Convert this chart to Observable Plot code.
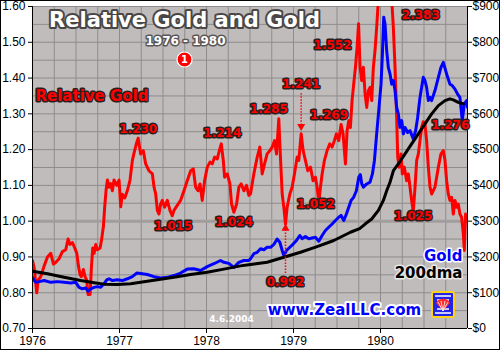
<!DOCTYPE html>
<html>
<head>
<meta charset="utf-8">
<script src="https://cdn.jsdelivr.net/npm/d3@7"></script>
<script src="https://cdn.jsdelivr.net/npm/@observablehq/plot@0.6"></script>
<style>
  html, body { margin: 0; padding: 0; background: #fff; }
  #wrap { position: relative; width: 500px; height: 350px; overflow: hidden; }
  #border { position: absolute; left: 0; top: 0; width: 500px; height: 350px; box-sizing: border-box; border: 1px solid #000; pointer-events: none; }
  #logo { position: absolute; left: 431px; top: 291px; width: 24px; height: 27px; }
</style>
</head>
<body>
<div id="wrap">
  <div id="chart"></div>
  <svg id="logo" viewBox="0 0 24 27">
    <rect x="1" y="1" width="22" height="25" rx="2" fill="#2424e8" stroke="#ffd21a" stroke-width="2"/>
    <path d="M4 5 L20 5 M4 22 L20 22 M6 9 L18 9 M6 18 L18 18" stroke="#fff" stroke-width="1.3"/>
    <path d="M12 20 L5 12 A8 8 0 0 1 19 12 Z" fill="#ff2a2a"/>
    <path d="M12 20 L7 11 M12 20 L10 10 M12 20 L14 10 M12 20 L17 11" stroke="#fff" stroke-width="0.8"/>
  </svg>
  <div id="border"></div>
</div>
<script>
// ---- Data ----
const relGold = [[1976.000,0.89],[1976.019,0.87],[1976.049,0.80],[1976.065,0.835],[1976.095,0.845],[1976.134,0.875],[1976.172,0.90],[1976.210,0.91],[1976.241,0.88],[1976.268,0.885],[1976.306,0.895],[1976.344,0.915],[1976.382,0.92],[1976.409,0.95],[1976.432,0.935],[1976.459,0.94],[1976.486,0.925],[1976.509,0.91],[1976.528,0.875],[1976.547,0.85],[1976.562,0.845],[1976.585,0.865],[1976.604,0.845],[1976.623,0.835],[1976.639,0.795],[1976.662,0.795],[1976.677,0.87],[1976.692,0.925],[1976.708,0.91],[1976.727,0.935],[1976.746,0.92],[1976.777,0.925],[1976.792,0.945],[1976.815,0.985],[1976.830,1.04],[1976.845,1.085],[1976.861,1.115],[1976.880,1.095],[1976.899,1.105],[1976.918,1.085],[1976.937,1.115],[1976.968,1.10],[1976.995,1.115],[1977.014,1.04],[1977.033,1.075],[1977.060,1.065],[1977.090,1.085],[1977.121,1.115],[1977.148,1.17],[1977.167,1.19],[1977.198,1.22],[1977.215,1.232],[1977.243,1.188],[1977.274,1.197],[1977.301,1.16],[1977.339,1.141],[1977.378,1.132],[1977.397,1.095],[1977.416,1.076],[1977.435,1.03],[1977.454,1.02],[1977.473,1.048],[1977.492,1.058],[1977.519,1.039],[1977.550,1.058],[1977.580,1.03],[1977.607,1.015],[1977.626,1.03],[1977.664,1.044],[1977.702,1.058],[1977.741,1.085],[1977.779,1.113],[1977.818,1.141],[1977.848,1.146],[1977.875,1.095],[1977.902,1.085],[1977.925,1.104],[1977.951,1.058],[1977.978,1.113],[1978.009,1.151],[1978.040,1.165],[1978.066,1.16],[1978.093,1.179],[1978.124,1.174],[1978.143,1.193],[1978.170,1.216],[1978.193,1.17],[1978.208,1.123],[1978.239,1.132],[1978.269,1.104],[1978.288,1.048],[1978.315,1.025],[1978.346,1.048],[1978.372,1.095],[1978.399,1.104],[1978.430,1.085],[1978.460,1.10],[1978.487,1.072],[1978.506,1.076],[1978.544,1.132],[1978.583,1.179],[1978.613,1.207],[1978.640,1.132],[1978.667,1.16],[1978.697,1.188],[1978.728,1.197],[1978.755,1.207],[1978.782,1.225],[1978.805,1.188],[1978.831,1.286],[1978.850,1.179],[1978.870,1.076],[1978.889,1.039],[1978.908,0.992],[1978.927,1.039],[1978.958,1.076],[1978.984,1.095],[1979.011,1.132],[1979.042,1.179],[1979.061,1.17],[1979.088,1.244],[1979.111,1.197],[1979.137,1.17],[1979.164,1.141],[1979.195,1.151],[1979.225,1.113],[1979.252,1.123],[1979.271,1.095],[1979.291,1.053],[1979.310,1.095],[1979.329,1.132],[1979.356,1.17],[1979.386,1.197],[1979.417,1.216],[1979.444,1.207],[1979.470,1.225],[1979.493,1.244],[1979.520,1.225],[1979.547,1.27],[1979.570,1.244],[1979.597,1.16],[1979.616,1.253],[1979.635,1.281],[1979.654,1.262],[1979.673,1.337],[1979.692,1.383],[1979.712,1.43],[1979.731,1.486],[1979.748,1.552],[1979.765,1.43],[1979.784,1.393],[1979.803,1.43],[1979.823,1.355],[1979.842,1.318],[1979.861,1.365],[1979.880,1.374],[1979.899,1.337],[1979.918,1.43],[1979.937,1.477],[1979.956,1.542],[1979.976,1.62],[1980.020,2.00],[1980.050,2.383],[1980.090,1.95],[1980.129,1.62],[1980.148,1.54],[1980.167,1.43],[1980.186,1.29],[1980.198,1.179],[1980.213,1.151],[1980.236,1.188],[1980.251,1.132],[1980.274,1.151],[1980.301,1.113],[1980.320,1.132],[1980.339,1.095],[1980.358,1.058],[1980.377,1.027],[1980.397,1.095],[1980.416,1.17],[1980.435,1.188],[1980.454,1.225],[1980.473,1.262],[1980.492,1.278],[1980.511,1.272],[1980.530,1.225],[1980.550,1.151],[1980.569,1.095],[1980.588,1.076],[1980.626,1.095],[1980.665,1.151],[1980.695,1.188],[1980.722,1.197],[1980.741,1.17],[1980.760,1.113],[1980.779,1.076],[1980.798,1.058],[1980.818,1.067],[1980.837,1.02],[1980.856,1.058],[1980.875,1.039],[1980.894,1.048],[1980.913,1.02],[1980.932,1.011],[1980.952,0.965],[1980.963,0.918],[1980.978,1.02],[1980.997,1.0]];

const goldPrice = [[1976.000,143],[1976.019,134],[1976.038,129],[1976.076,131],[1976.134,134],[1976.210,129],[1976.287,131],[1976.363,129],[1976.440,127],[1976.497,129],[1976.535,115],[1976.574,111],[1976.612,113],[1976.639,104],[1976.669,111],[1976.708,115],[1976.746,117],[1976.784,115],[1976.822,125],[1976.853,136],[1976.880,139],[1976.918,134],[1976.976,136],[1977.033,134],[1977.090,139],[1977.148,145],[1977.198,155],[1977.243,154],[1977.320,151],[1977.396,145],[1977.473,141],[1977.549,143],[1977.626,148],[1977.702,155],[1977.779,166],[1977.855,167],[1977.932,162],[1978.008,173],[1978.085,181],[1978.161,190],[1978.200,185],[1978.257,182],[1978.315,171],[1978.372,185],[1978.430,190],[1978.487,190],[1978.506,195],[1978.544,209],[1978.583,213],[1978.621,223],[1978.659,220],[1978.697,227],[1978.736,227],[1978.774,235],[1978.812,250],[1978.843,241],[1978.870,218],[1978.889,204],[1978.919,218],[1978.958,227],[1978.996,236],[1979.034,246],[1979.072,260],[1979.099,251],[1979.137,257],[1979.176,251],[1979.214,253],[1979.252,255],[1979.291,244],[1979.329,260],[1979.367,274],[1979.405,283],[1979.444,292],[1979.482,302],[1979.520,311],[1979.547,316],[1979.578,302],[1979.608,320],[1979.635,339],[1979.662,358],[1979.692,367],[1979.723,385],[1979.750,423],[1979.769,430],[1979.784,405],[1979.803,395],[1979.842,404],[1979.880,409],[1979.907,432],[1979.930,469],[1979.956,544],[1979.983,618],[1980.006,683],[1980.022,767],[1980.037,870],[1980.052,851],[1980.071,777],[1980.090,730],[1980.110,711],[1980.129,683],[1980.148,693],[1980.167,665],[1980.186,618],[1980.205,600],[1980.224,562],[1980.244,581],[1980.263,544],[1980.282,562],[1980.312,548],[1980.339,553],[1980.377,530],[1980.404,553],[1980.427,590],[1980.454,646],[1980.473,674],[1980.492,702],[1980.511,693],[1980.530,674],[1980.550,637],[1980.569,646],[1980.588,637],[1980.626,665],[1980.665,702],[1980.695,730],[1980.722,744],[1980.749,721],[1980.772,702],[1980.798,683],[1980.825,679],[1980.856,669],[1980.886,655],[1980.913,646],[1980.940,581],[1980.963,628],[1980.990,637],[1981.000,618]];

const dma200 = [[1976.000,160],[1976.172,153],[1976.363,143],[1976.555,134],[1976.708,128],[1976.822,124],[1976.976,123],[1977.129,125],[1977.243,129],[1977.434,136],[1977.626,143],[1977.817,151],[1978.008,157],[1978.200,166],[1978.391,175],[1978.506,179],[1978.697,185],[1978.889,199],[1979.080,213],[1979.271,229],[1979.463,246],[1979.654,269],[1979.760,279],[1979.823,292],[1979.899,306],[1979.976,330],[1980.033,358],[1980.071,385],[1980.110,409],[1980.148,441],[1980.205,460],[1980.282,488],[1980.358,516],[1980.435,544],[1980.511,572],[1980.588,600],[1980.665,623],[1980.741,637],[1980.798,642],[1980.837,639],[1980.894,632],[1980.952,628]];

// axis ticks
const relTicks = [0.70, 0.80, 0.90, 1.00, 1.10, 1.20, 1.30, 1.40, 1.50, 1.60];
const goldTicks = ["$0", "$100", "$200", "$300", "$400", "$500", "$600", "$700", "$800", "$900"];
const yearTicks = [1976, 1977, 1978, 1979, 1980];
const xDomain = [1976, 1981];
const yDomain = [0.70, 1.60];
const goldBase = 0.70; // $0 on the right axis aligns with 0.70 on the left axis
const goldPerUnit = 1000; // $100 per 0.10

// annotated extremes: label, time
const annLabels = ["1.230", "1.214", "1.015", "1.024", "1.285", "1.241", "1.269", "1.552", "2.383", "1.052", "0.992", "1.025", "1.276"];
const annTimes  = [1977.215, 1978.170, 1977.607, 1978.315, 1978.831, 1979.088, 1979.547, 1979.748, 1980.050, 1979.291, 1978.908, 1980.377, 1980.492];

// ---- Layout (offsets in px) ----
const annOffsets = [[0,-10],[1,-11],[1,10],[0,10],[-10,-10],[0,-51],[-12,-10],[-26,21],[36,9],[-3,2],[0,58],[0,4],[27,3]];

const toRows = arr => arr.map(([t, v]) => ({t, v}));
const rel = toRows(relGold);
const gold = toRows(goldPrice).map(d => ({t: d.t, v: goldBase + d.v / goldPerUnit}));
const dma = toRows(dma200).map(d => ({t: d.t, v: goldBase + d.v / goldPerUnit}));

const quarterGrid = d3.range(xDomain[0], xDomain[1] + 0.001, 0.25);
const yGrid = d3.range(0, 19).map(i => +(yDomain[0] + i * 0.05).toFixed(2));

const boldFont = "DejaVu Sans";
const annMarks = annLabels.map((lab, i) => {
  const v = Math.min(+lab, yDomain[1]);
  return Plot.text([{t: annTimes[i], v, lab}], {
    x: "t", y: "v", text: "lab", dx: annOffsets[i][0], dy: annOffsets[i][1],
    fill: "#ff0000", stroke: "#2a1e1e", strokeWidth: 3, fontFamily: boldFont,
    fontWeight: "bold", fontSize: 12, textAnchor: "middle", lineAnchor: "middle"
  });
});

const peak1241 = [{t: annTimes[5], v: +annLabels[5]}];
const low0992 = [{t: annTimes[10], v: +annLabels[10]}];

const frameText = (txt, dx, dy, opts) => Plot.text([txt], Object.assign({
  frameAnchor: "top-left", dx, dy, lineAnchor: "middle", fontFamily: boldFont, fontWeight: "bold"
}, opts));

const chart = Plot.plot({
  width: 500,
  height: 350,
  marginLeft: 32,
  marginRight: 33,
  marginTop: 6,
  marginBottom: 22,
  style: {fontFamily: "Liberation Sans, Arial, sans-serif", fontSize: "12px", background: "transparent", color: "#000"},
  x: {domain: xDomain, label: null},
  y: {domain: yDomain, label: null},
  marks: [
    Plot.frame({fill: "#c0bcbc", stroke: null}),
    Plot.gridX(quarterGrid, {stroke: "#8e8c8c", strokeOpacity: 1}),
    Plot.gridY(yGrid, {stroke: "#8e8c8c", strokeOpacity: 1}),
    Plot.ruleY([1.00], {stroke: "#a19d9d", strokeWidth: 3}),
    Plot.line(rel, {x: "t", y: "v", stroke: "#ff0000", strokeWidth: 3, clip: true}),
    Plot.line(gold, {x: "t", y: "v", stroke: "#0000ff", strokeWidth: 3, clip: true}),
    Plot.line(dma, {x: "t", y: "v", stroke: "#000000", strokeWidth: 3, clip: true}),
    // axis lines
    Plot.ruleX(xDomain, {stroke: "#000", strokeWidth: 1}),
    Plot.ruleY([yDomain[0]], {stroke: "#000", strokeWidth: 1}),
    Plot.axisY(relTicks, {anchor: "left", tickSize: 4, tickPadding: 3, tickFormat: d => d.toFixed(2), fontSize: 12, label: null}),
    Plot.axisY(relTicks, {anchor: "right", tickSize: 4, tickPadding: 1, tickFormat: d => goldTicks[relTicks.indexOf(d)], fontSize: 12, label: null}),
    Plot.axisX(yearTicks, {anchor: "bottom", tickSize: 5, tickPadding: 3, tickFormat: d => String(d), fontSize: 12, label: null}),
    // dotted pointer arrows
    Plot.ruleX(peak1241, {x: "t", y1: d => d.v + 0.115, y2: d => d.v + 0.03, stroke: "#ff0000", strokeWidth: 1.5, strokeDasharray: "1.5,1.5"}),
    Plot.dot(peak1241, {x: "t", y: d => d.v + 0.024, symbol: "triangle", rotate: 180, r: 3, fill: "#ff0000", stroke: null}),
    Plot.ruleX(low0992, {x: "t", y1: d => d.v - 0.138, y2: d => d.v - 0.018, stroke: "#ff0000", strokeWidth: 1.5, strokeDasharray: "1.5,1.5"}),
    Plot.dot(low0992, {x: "t", y: d => d.v - 0.012, symbol: "triangle", r: 3, fill: "#ff0000", stroke: null}),
    ...annMarks,
    // titles and legend texts
    frameText("Relative Gold and Gold", 152, 14, {textAnchor: "middle", fontSize: 21, fill: "#ffffff", stroke: "#4a4646", strokeWidth: 4}),
    frameText("1976 - 1980", 153, 35, {textAnchor: "middle", fontSize: 12, fill: "#ffffff", stroke: "#5a5656", strokeWidth: 3}),
    Plot.dot([0], {frameAnchor: "top-left", dx: 152, dy: 53, r: 7.5, fill: "#ff0000", stroke: "#ffffff", strokeWidth: 1.2}),
    frameText("1", 152, 53.5, {textAnchor: "middle", fontSize: 10, fill: "#ffffff"}),
    frameText("Relative Gold", 3, 90, {textAnchor: "start", fontSize: 15, fill: "#ff0000", stroke: "#2a1e1e", strokeWidth: 3}),
    frameText("Gold", 430, 250, {textAnchor: "end", fontSize: 15, fill: "#0000ff", stroke: "#ffffff", strokeWidth: 3}),
    frameText("200dma", 430, 267, {textAnchor: "end", fontSize: 15, fill: "#000000", stroke: "#e8e8e8", strokeWidth: 3}),
    frameText("www.ZealLLC.com", 312, 304, {textAnchor: "middle", fontSize: 15, fill: "#0000ff", stroke: "#ffffff", strokeWidth: 4}),
    frameText("4.6.2004", 199, 313, {textAnchor: "middle", fontSize: 9, fill: "#ffffff"})
  ]
});
document.getElementById("chart").appendChild(chart);
</script>
</body>
</html>
